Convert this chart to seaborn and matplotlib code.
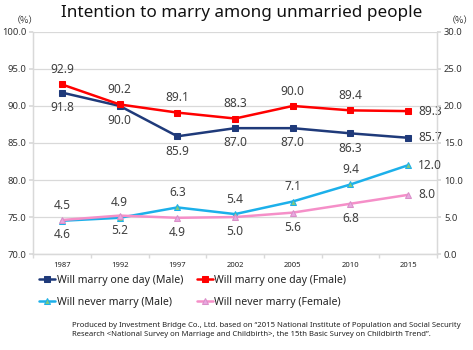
import matplotlib
matplotlib.use("Agg")
import matplotlib.pyplot as plt
import seaborn as sns
import pandas as pd
import numpy as np
from matplotlib.ticker import FixedLocator, FuncFormatter

sns.set_theme(style="white")
plt.rcParams['font.family'] = ['Noto Sans', 'DejaVu Sans']

years = ["1987", "1992", "1997", "2002", "2005", "2010", "2015"]
marry_male = [91.8, 90.0, 85.9, 87.0, 87.0, 86.3, 85.7]
marry_female = [92.9, 90.2, 89.1, 88.3, 90.0, 89.4, 89.3]
never_male = [4.5, 4.9, 6.3, 5.4, 7.1, 9.4, 12.0]
never_female = [4.6, 5.2, 4.9, 5.0, 5.6, 6.8, 8.0]

labels = ["Will marry one day (Male)", "Will marry one day (Fmale)",
          "Will never marry (Male)", "Will never marry (Female)"]

pos = np.arange(len(years))
df = pd.DataFrame({"pos": pos, "mm": marry_male, "mf": marry_female,
                   "nm": never_male, "nf": never_female})

fig = plt.figure(figsize=(4.73, 3.5), dpi=100)
ax = fig.add_axes([0.070, 0.274, 0.854, 0.635])
ax2 = ax.twinx()

grid_c = "#D9D9D9"
txt_c = "#404040"

sns.lineplot(data=df, x="pos", y="mm", ax=ax, color="#1F3A7A", marker="s",
             markersize=5, markerfacecolor="#1F3A7A", markeredgecolor="#1F3A7A",
             linewidth=1.8, label=labels[0], legend=False)
sns.lineplot(data=df, x="pos", y="mf", ax=ax, color="#FF0000", marker="s",
             markersize=5, markerfacecolor="#FF0000", markeredgecolor="#FF0000",
             linewidth=1.8, label=labels[1], legend=False)
sns.lineplot(data=df, x="pos", y="nm", ax=ax2, color="#1CB0EA", marker="^",
             markersize=5, markerfacecolor="#7FC97F", markeredgecolor="#1CB0EA",
             linewidth=1.8, label=labels[2], legend=False)
sns.lineplot(data=df, x="pos", y="nf", ax=ax2, color="#F58FC8", marker="^",
             markersize=5, markerfacecolor="#E9A7E0", markeredgecolor="#D98FC8",
             linewidth=1.8, label=labels[3], legend=False)

ax.set_ylim(70, 100)
ax2.set_ylim(0, 30)
ax.set_xlim(-0.5, len(years) - 0.5)
ax.set_yticks(np.arange(70, 100.1, 5))
ax2.set_yticks(np.arange(0, 30.1, 5))
ax.yaxis.set_major_formatter(FuncFormatter(lambda v, p: f"{v:.1f}"))
ax2.yaxis.set_major_formatter(FuncFormatter(lambda v, p: f"{v:.1f}"))
ax.grid(axis="y", color=grid_c, linewidth=0.9)
ax.set_axisbelow(True)
ax.set_xlabel("")
ax.set_ylabel("")
ax2.set_ylabel("")
ax.set_xticks(pos)
ax.set_xticklabels(years)
ax.xaxis.set_minor_locator(FixedLocator(np.arange(-0.5, len(years), 1.0)))
ax.tick_params(axis="x", which="major", length=0, labelsize=5.5, pad=6, colors="#222222")
ax.tick_params(axis="x", which="minor", length=3, color=grid_c, direction="out", bottom=True)
ax.tick_params(axis="y", which="major", length=3, color=grid_c, labelsize=6.8, pad=2,
               colors="#333333", left=True)
ax2.tick_params(axis="y", which="major", length=3, color=grid_c, labelsize=6.8, pad=2,
                colors="#333333", right=True)
for a in (ax, ax2):
    for s in a.spines.values():
        s.set_color(grid_c)
        s.set_linewidth(0.9)
    a.spines["top"].set_visible(False)

# data labels
fs = 8.6
for i in range(len(years)):
    last = i == len(years) - 1
    if last:
        ax.annotate(f"{marry_male[i]:.1f}", (pos[i], marry_male[i]), xytext=(7, 0),
                    textcoords="offset points", ha="left", va="center", fontsize=fs, color=txt_c)
        ax.annotate(f"{marry_female[i]:.1f}", (pos[i], marry_female[i]), xytext=(7, 0),
                    textcoords="offset points", ha="left", va="center", fontsize=fs, color=txt_c)
        ax2.annotate(f"{never_male[i]:.1f}", (pos[i], never_male[i]), xytext=(7, 0),
                     textcoords="offset points", ha="left", va="center", fontsize=fs, color=txt_c)
        ax2.annotate(f"{never_female[i]:.1f}", (pos[i], never_female[i]), xytext=(7, 0),
                     textcoords="offset points", ha="left", va="center", fontsize=fs, color=txt_c)
    else:
        ax.annotate(f"{marry_male[i]:.1f}", (pos[i], marry_male[i]), xytext=(0, -6),
                    textcoords="offset points", ha="center", va="top", fontsize=fs, color=txt_c)
        ax.annotate(f"{marry_female[i]:.1f}", (pos[i], marry_female[i]), xytext=(0, 6),
                    textcoords="offset points", ha="center", va="bottom", fontsize=fs, color=txt_c)
        ax2.annotate(f"{never_male[i]:.1f}", (pos[i], never_male[i]), xytext=(0, 6),
                     textcoords="offset points", ha="center", va="bottom", fontsize=fs, color=txt_c)
        ax2.annotate(f"{never_female[i]:.1f}", (pos[i], never_female[i]), xytext=(0, -6),
                     textcoords="offset points", ha="center", va="top", fontsize=fs, color=txt_c)

fig.text(0.51, 0.962, "Intention to marry among unmarried people", ha="center", va="center",
         fontsize=12.3, color="#111111")
fig.text(0.053, 0.942, "（%）", ha="center", va="center", fontsize=6.5, color="#333333",
         family=["Noto Sans CJK JP", "DejaVu Sans"])
fig.text(0.972, 0.942, "（%）", ha="center", va="center", fontsize=6.5, color="#333333",
         family=["Noto Sans CJK JP", "DejaVu Sans"])

h1, l1 = ax.get_legend_handles_labels()
h2, l2 = ax2.get_legend_handles_labels()
handles = [h1[0], h2[0], h1[1], h2[1]]
labs = [l1[0], l2[0], l1[1], l2[1]]
leg = fig.legend(handles, labs, ncol=2, loc="upper left", bbox_to_anchor=(0.083, 0.214),
                 frameon=False, fontsize=7.6, handlelength=1.5, handletextpad=0.15,
                 columnspacing=1.3, labelspacing=1.05, borderaxespad=0, borderpad=0)
for t in leg.get_texts():
    t.set_color("#222222")

fig.text(0.152, 0.057, "Produced by Investment Bridge Co., Ltd. based on \u201c2015 National Institute of Population and Social Security\nResearch <National Survey on Marriage and Childbirth>, the 15th Basic Survey on Childbirth Trend\u201d.",
         ha="left", va="center", fontsize=5.55, color="#222222", linespacing=1.5)

fig.savefig("out.png", dpi=100)
